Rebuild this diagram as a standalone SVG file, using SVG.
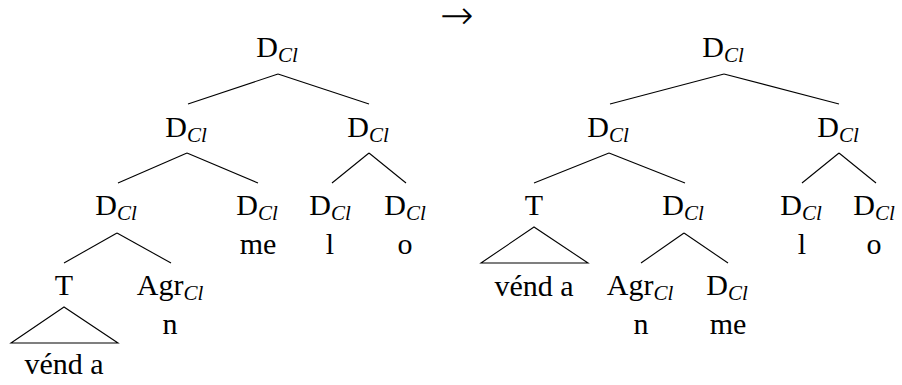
<svg xmlns="http://www.w3.org/2000/svg" width="902" height="385" viewBox="0 0 902 385">
<style>
text{font-family:"Liberation Serif","Times New Roman",serif;font-size:30px;fill:#000;text-anchor:middle}
.s{font-size:21px;font-style:italic}
.arr{font-family:"DejaVu Sans",sans-serif;font-size:40px;font-weight:200}
#edges line,#edges polygon{stroke:#000;stroke-width:1.1;fill:none}
</style>
<rect width="902" height="385" fill="#fff"/>
<g id="edges">
<line x1="278" y1="74" x2="188" y2="104"/><line x1="278" y1="74" x2="369" y2="104"/>
<line x1="187" y1="153" x2="118" y2="183"/><line x1="187" y1="153" x2="258" y2="183"/>
<line x1="369" y1="153" x2="332" y2="183"/><line x1="369" y1="153" x2="406" y2="183"/>
<line x1="117" y1="233" x2="64" y2="263"/><line x1="117" y1="233" x2="171" y2="263"/>
<polygon points="64,307 11,343 118,343"/>
<line x1="724" y1="74" x2="610" y2="104"/><line x1="724" y1="74" x2="839" y2="104"/>
<line x1="609" y1="153" x2="534" y2="183"/><line x1="609" y1="153" x2="685" y2="183"/>
<line x1="839" y1="153" x2="802" y2="183"/><line x1="839" y1="153" x2="876" y2="183"/>
<polygon points="534,227 481,263 588,263"/>
<line x1="684" y1="233" x2="641" y2="263"/><line x1="684" y1="233" x2="728" y2="263"/>
</g>
<g id="arrow"><text class="arr" x="457" y="29">→</text></g>
<g id="L-root"><text x="277" y="57">D<tspan class="s" dy="5">Cl</tspan></text></g>
<g id="L-d1"><text x="186" y="137">D<tspan class="s" dy="5">Cl</tspan></text></g>
<g id="L-d2"><text x="368" y="137">D<tspan class="s" dy="5">Cl</tspan></text></g>
<g id="L-d3"><text x="116" y="215">D<tspan class="s" dy="5">Cl</tspan></text></g>
<g id="L-me"><text x="257" y="215">D<tspan class="s" dy="5">Cl</tspan></text><text x="258" y="254">me</text></g>
<g id="L-l"><text x="330" y="215">D<tspan class="s" dy="5">Cl</tspan></text><text x="330" y="254">l</text></g>
<g id="L-o"><text x="405" y="215">D<tspan class="s" dy="5">Cl</tspan></text><text x="405" y="254">o</text></g>
<g id="L-T"><text x="64" y="295">T</text><text x="64" y="374">vénd a</text></g>
<g id="L-agr"><text x="170" y="295">Agr<tspan class="s" dy="5">Cl</tspan></text><text x="170" y="334">n</text></g>
<g id="R-root"><text x="723" y="57">D<tspan class="s" dy="5">Cl</tspan></text></g>
<g id="R-d1"><text x="608" y="137">D<tspan class="s" dy="5">Cl</tspan></text></g>
<g id="R-d2"><text x="838" y="137">D<tspan class="s" dy="5">Cl</tspan></text></g>
<g id="R-T"><text x="534" y="215">T</text><text x="534" y="296">vénd a</text></g>
<g id="R-d3"><text x="683" y="215">D<tspan class="s" dy="5">Cl</tspan></text></g>
<g id="R-l"><text x="801" y="215">D<tspan class="s" dy="5">Cl</tspan></text><text x="802" y="254">l</text></g>
<g id="R-o"><text x="874" y="215">D<tspan class="s" dy="5">Cl</tspan></text><text x="874" y="254">o</text></g>
<g id="R-agr"><text x="640" y="295">Agr<tspan class="s" dy="5">Cl</tspan></text><text x="641" y="334">n</text></g>
<g id="R-me"><text x="727" y="295">D<tspan class="s" dy="5">Cl</tspan></text><text x="728" y="334">me</text></g>
</svg>
